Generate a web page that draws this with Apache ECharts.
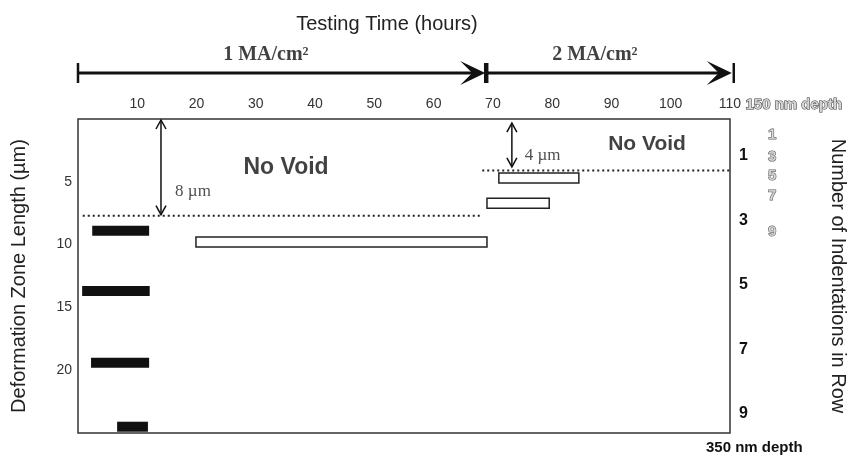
<!DOCTYPE html>
<html><head><meta charset="utf-8">
<script src="https://cdn.jsdelivr.net/npm/echarts@6/dist/echarts.min.js"></script>
<style>html,body{margin:0;padding:0;background:#fff}#c{width:853px;height:463px}</style>
</head><body><div id="c"></div>
<script>
// ---- data ----
const timeTicks = [10,20,30,40,50,60,70,80,90,100,110];
const lengthTicks = [5,10,15,20];
const rowCounts350 = [1,3,5,7,9];
// solid bars (350 nm depth): [startHour, endHour, zoneLength µm]
const solidBars = [[2.4,12.0,8.9],[0.7,12.1,13.7],[2.2,12.0,19.4],[6.6,11.8,24.5]];
// hollow bars (150 nm depth): [startHour, endHour, zoneLength µm]
const hollowBars = [[19.9,69.0,9.8],[71.0,84.5,4.7],[69.0,79.5,6.7]];
const voidLine1 = [[0.8,7.7],[67.8,7.7]];
const voidLine2 = [[68.2,4.1],[110,4.1]];
// span arrows: [hour, fromLength, toLength]
const spanArrows = [[14.0,0,7.7],[73.2,0.25,3.9]];
const spanLabels = [[19.4,5.8,'8 µm'],[78.4,2.9,'4 µm']];
const regionLabels = [[35.1,3.85,'No Void'],[96.0,2.0,'No Void']];
const regionLabelSizes = [23,21];
// 150 nm depth row counts: [hour(pos), length(pos), text]
const rowCounts150 = [[117.1,1.3,'1'],[117.1,3.0,'3'],[117.1,4.5,'5'],[117.1,6.1,'7'],[117.1,9.0,'9']];
const currentSegments = [[0,68.7],[68.7,110.3]];
const currentLabels = [[31.7,1.4,'1 MA/cm²'],[87.2,1.4,'2 MA/cm²']];

const SANS = "'Liberation Sans', Arial, sans-serif";
const SERIF = "'Liberation Serif', 'Times New Roman', serif";
const INK = '#111';

const chart = echarts.init(document.getElementById('c'), null, {renderer:'canvas'});

const option = {
  animation:false,
  backgroundColor:'#fff',
  title:{text:'Testing Time (hours)', left:382, top:9, textAlign:'center',
    textStyle:{fontFamily:SANS, fontSize:20, fontWeight:'normal', color:'#222'}},
  grid:[
    {left:78, right:123, top:119, bottom:30, show:true, borderColor:'#333', borderWidth:1.5, backgroundColor:'transparent',
      containLabel:false, outerBoundsMode:'none'},
    {left:78, right:123, top:63, height:20, show:false, containLabel:false, outerBoundsMode:'none'}
  ],
  xAxis:[
    {gridIndex:0, type:'value', position:'top', min:0, max:110, interval:10,
      axisLine:{show:false}, axisTick:{show:false}, splitLine:{show:false},
      axisLabel:{margin:8, fontFamily:SANS, fontSize:14, color:'#333',
        formatter:v => timeTicks.includes(v) ? String(v) : ''}},
    {gridIndex:1, type:'value', min:0, max:110, show:false}
  ],
  yAxis:[
    {gridIndex:0, type:'value', inverse:true, min:0, max:25, interval:5, position:'left',
      name:'Deformation Zone Length (µm)', nameLocation:'middle', nameGap:49,
      nameTextStyle:{fontFamily:SANS, fontSize:20, color:'#222'},
      axisLine:{show:false}, axisTick:{show:false}, splitLine:{show:false},
      axisLabel:{margin:6, fontFamily:SANS, fontSize:14, color:'#333',
        formatter:v => lengthTicks.includes(v) ? String(v) : ''}},
    {gridIndex:0, type:'value', inverse:true, min:-0.15, max:9.6, position:'right',
      name:'Number of Indentations in Row', nameLocation:'middle', nameGap:98, nameRotate:-90,
      nameTextStyle:{fontFamily:SANS, fontSize:20, color:'#222'},
      axisLine:{show:false}, axisTick:{show:false}, splitLine:{show:false},
      axisLabel:{margin:9, fontFamily:SANS, fontSize:16, fontWeight:'bold', color:INK,
        customValues:rowCounts350, formatter:v => String(v)}},
    {gridIndex:1, type:'value', min:0, max:1, show:false}
  ],
  graphic:[
    {type:'text', left:745, top:97, style:{text:'150 nm depth', font:"bold 15px "+SANS, fill:'#d4d4d4', stroke:'#333', lineWidth:1}},
    {type:'text', left:706, top:440, style:{text:'350 nm depth', font:"bold 15px "+SANS, fill:INK}}
  ],
  series:[
    {type:'custom', xAxisIndex:0, yAxisIndex:0, data:solidBars, encode:{x:[0,1], y:2},
      renderItem:(p, api) => {
        const a = api.coord([api.value(0), api.value(2)]);
        const b = api.coord([api.value(1), api.value(2)]);
        return {type:'rect', shape:{x:a[0], y:a[1]-5, width:b[0]-a[0], height:10}, style:{fill:INK}};
      }},
    {type:'custom', xAxisIndex:0, yAxisIndex:0, data:hollowBars, encode:{x:[0,1], y:2},
      renderItem:(p, api) => {
        const a = api.coord([api.value(0), api.value(2)]);
        const b = api.coord([api.value(1), api.value(2)]);
        return {type:'rect', shape:{x:a[0], y:a[1]-5, width:b[0]-a[0], height:10}, style:{fill:'#fff', stroke:'#222', lineWidth:1.5}};
      }},
    {type:'line', xAxisIndex:0, yAxisIndex:0, data:voidLine1, showSymbol:false, symbol:'none',
      lineStyle:{color:'#222', width:2, type:[2,3]}},
    {type:'line', xAxisIndex:0, yAxisIndex:0, data:voidLine2, showSymbol:false, symbol:'none',
      lineStyle:{color:'#222', width:2, type:[2,3]}},
    {type:'custom', xAxisIndex:0, yAxisIndex:0, data:spanArrows,
      renderItem:(p, api) => {
        const a = api.coord([api.value(0), api.value(1)]);
        const b = api.coord([api.value(0), api.value(2)]);
        const st = {stroke:'#111', lineWidth:1.5, fill:null};
        return {type:'group', children:[
          {type:'line', shape:{x1:a[0], y1:a[1]+1, x2:b[0], y2:b[1]-1}, style:st},
          {type:'polyline', shape:{points:[[a[0]-5,a[1]+10],[a[0],a[1]+1],[a[0]+5,a[1]+10]]}, style:st},
          {type:'polyline', shape:{points:[[b[0]-5,b[1]-10],[b[0],b[1]-1],[b[0]+5,b[1]-10]]}, style:st}
        ]};
      }},
    {type:'scatter', xAxisIndex:0, yAxisIndex:0, symbolSize:0, clip:false, data:spanLabels,
      label:{show:true, position:'inside', formatter:p => p.data[2], fontFamily:SERIF, fontSize:17, color:'#222'}},
    {type:'scatter', xAxisIndex:0, yAxisIndex:0, symbolSize:0, clip:false,
      data:regionLabels.map((r, i) => ({value:r, label:{fontSize:regionLabelSizes[i]}})),
      label:{show:true, position:'inside', formatter:p => p.value[2], fontFamily:SANS, fontWeight:'bold', color:INK}},
    {type:'scatter', xAxisIndex:0, yAxisIndex:0, symbolSize:0, clip:false, data:rowCounts150,
      label:{show:true, position:'inside', formatter:p => p.data[2], fontFamily:SANS, fontSize:15, fontWeight:'bold',
        color:'#d4d4d4', textBorderColor:'#333', textBorderWidth:1}},
    {type:'custom', xAxisIndex:1, yAxisIndex:2, data:currentSegments, clip:false,
      renderItem:(p, api) => {
        const x0 = api.value(0), x1 = api.value(1);
        const a = api.coord([x0,0.5]), b = api.coord([x1,0.5]);
        const ta = api.coord([x0,0]), tb = api.coord([x0,1]);
        const ea = api.coord([x1,0]), eb = api.coord([x1,1]);
        const st = {stroke:'#111', lineWidth:3, fill:null};
        return {type:'group', children:[
          {type:'line', shape:{x1:a[0], y1:a[1], x2:b[0]-10, y2:b[1]}, style:st},
          {type:'line', shape:{x1:ta[0], y1:ta[1], x2:tb[0], y2:tb[1]}, style:{stroke:'#111', lineWidth:2.5}},
          {type:'line', shape:{x1:ea[0]+2, y1:ea[1], x2:eb[0]+2, y2:eb[1]}, style:{stroke:'#111', lineWidth:2.5}},
          {type:'polygon', shape:{points:[[b[0],b[1]],[b[0]-25,b[1]-12],[b[0]-13,b[1]],[b[0]-25,b[1]+12]]}, style:{fill:'#111'}}
        ]};
      }},
    {type:'scatter', xAxisIndex:1, yAxisIndex:2, symbolSize:0, clip:false, data:currentLabels,
      label:{show:true, position:'inside', formatter:p => p.data[2], fontFamily:SERIF, fontSize:20, fontWeight:'bold', color:INK}}
  ]
};
chart.setOption(option);
</script></body></html>
